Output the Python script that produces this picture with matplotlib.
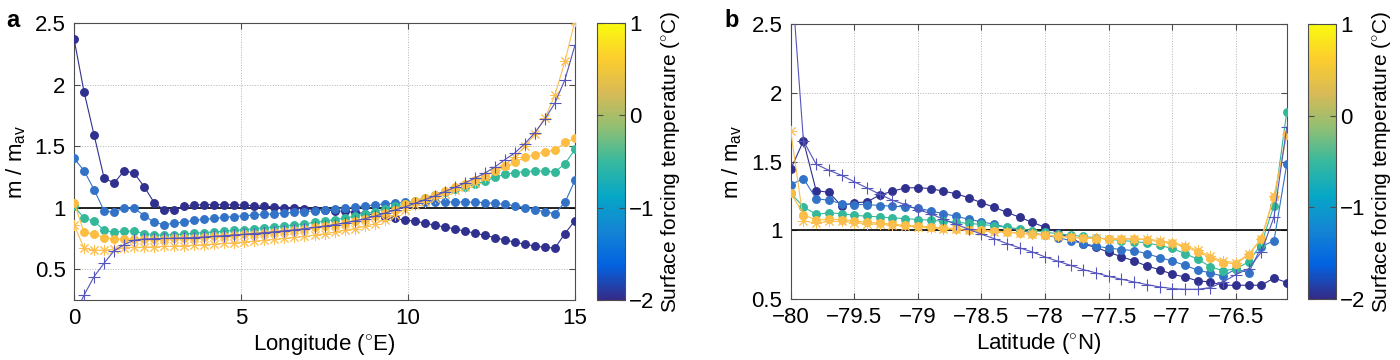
import numpy as np
import matplotlib
matplotlib.use('Agg')
import matplotlib.pyplot as plt
from matplotlib.colors import LinearSegmentedColormap, Normalize
from matplotlib.cm import ScalarMappable

plt.rcParams['font.family'] = ['Liberation Sans', 'DejaVu Sans']
plt.rcParams['mathtext.fontset'] = 'custom'
plt.rcParams['mathtext.rm'] = 'Liberation Sans'
plt.rcParams['mathtext.it'] = 'Liberation Sans:italic'
plt.rcParams['font.size'] = 16

# ---------------- data ----------------
# panel a : along longitude, 0 .. 15 E every 0.3 deg
lon = np.linspace(0, 15, 51)

a_m2 = [2.37, 1.94, 1.59, 1.24, 1.20, 1.30, 1.28, 1.17, 1.04, 0.98,
        0.98, 1.01, 1.02, 1.024, 1.024, 1.024, 1.022, 1.02, 1.016, 1.012,
        1.006, 1.0, 0.995, 0.99, 0.985, 0.98, 0.975, 0.97, 0.962, 0.952,
        0.94, 0.925, 0.912, 0.90, 0.89, 0.875, 0.858, 0.843, 0.827, 0.81,
        0.794, 0.775, 0.757, 0.737, 0.72, 0.703, 0.688, 0.677, 0.672, 0.79,
        0.895]
a_m15 = [1.40, 1.30, 1.146, 0.973, 0.962, 1.0, 0.995, 0.935, 0.881, 0.862,
         0.873, 0.884, 0.897, 0.905, 0.913, 0.921, 0.928, 0.934, 0.94, 0.946,
         0.951, 0.957, 0.962, 0.968, 0.974, 0.98, 0.986, 0.995, 1.005, 1.014,
         1.022, 1.03, 1.037, 1.042, 1.045, 1.046, 1.046, 1.046, 1.046, 1.045,
         1.044, 1.041, 1.035, 1.027, 1.016, 1.0, 0.985, 0.966, 0.952, 1.043,
         1.222]
a_m05 = [1.01, 0.915, 0.89, 0.815, 0.80, 0.81, 0.81, 0.79, 0.78, 0.778,
         0.78, 0.786, 0.792, 0.798, 0.803, 0.809, 0.815, 0.822, 0.829, 0.836,
         0.844, 0.852, 0.861, 0.87, 0.88, 0.89, 0.902, 0.915, 0.93, 0.948,
         0.968, 0.99, 1.012, 1.03, 1.055, 1.08, 1.10, 1.125, 1.148, 1.17,
         1.19, 1.215, 1.245, 1.271, 1.284, 1.293, 1.297, 1.297, 1.29, 1.357,
         1.474]
a_p05 = [1.04, 0.80, 0.785, 0.755, 0.745, 0.745, 0.745, 0.745, 0.746, 0.748,
         0.75, 0.753, 0.757, 0.762, 0.767, 0.772, 0.778, 0.784, 0.79, 0.797,
         0.804, 0.812, 0.82, 0.829, 0.839, 0.85, 0.862, 0.876, 0.892, 0.91,
         0.93, 0.955, 0.982, 1.03, 1.055, 1.08, 1.105, 1.135, 1.165, 1.195,
         1.225, 1.26, 1.30, 1.335, 1.368, 1.41, 1.43, 1.455, 1.465, 1.53,
         1.563]
a_star = [0.86, 0.67, 0.655, 0.653, 0.664, 0.675, 0.678, 0.68, 0.682, 0.685,
          0.688, 0.691, 0.695, 0.70, 0.705, 0.71, 0.716, 0.722, 0.728, 0.735,
          0.742, 0.75, 0.758, 0.767, 0.777, 0.788, 0.80, 0.815, 0.83, 0.848,
          0.87, 0.90, 0.94, 0.985, 1.02, 1.05, 1.08, 1.11, 1.14, 1.168,
          1.198, 1.25, 1.306, 1.35, 1.414, 1.50, 1.60, 1.73, 1.915, 2.19,
          2.52]
a_plus = [0.12, 0.29, 0.44, 0.55, 0.65, 0.70, 0.735, 0.745, 0.748, 0.75,
          0.752, 0.754, 0.757, 0.762, 0.767, 0.772, 0.778, 0.784, 0.79, 0.797,
          0.804, 0.812, 0.82, 0.829, 0.839, 0.85, 0.862, 0.876, 0.892, 0.91,
          0.93, 0.955, 0.98, 1.005, 1.035, 1.065, 1.095, 1.13, 1.165, 1.20,
          1.24, 1.28, 1.33, 1.39, 1.445, 1.52, 1.61, 1.72, 1.85, 2.04,
          2.32]

# panel b : along latitude, -80 .. -76.1 N every 0.1 deg
lat = np.linspace(-80, -76.1, 40)

b_m2 = [1.444, 1.65, 1.288, 1.276, 1.177, 1.20, 1.206, 1.257, 1.284, 1.308,
        1.31, 1.303, 1.284, 1.266, 1.236, 1.20, 1.168, 1.13, 1.095, 1.057,
        1.022, 0.983, 0.943, 0.90, 0.875, 0.84, 0.808, 0.777, 0.74, 0.714,
        0.68, 0.66, 0.632, 0.624, 0.60, 0.60, 0.60, 0.60, 0.653, 0.62]
b_m15 = [1.332, 1.376, 1.23, 1.218, 1.194, 1.187, 1.187, 1.18, 1.175, 1.17,
         1.162, 1.14, 1.121, 1.102, 1.08, 1.061, 1.044, 1.02, 1.0, 0.98,
         0.964, 0.947, 0.925, 0.903, 0.885, 0.87, 0.86, 0.852, 0.83, 0.801,
         0.777, 0.745, 0.71, 0.69, 0.665, 0.72, 0.69, 0.88, 0.925, 1.48]
b_m05 = [1.27, 1.17, 1.116, 1.126, 1.121, 1.109, 1.102, 1.097, 1.09, 1.085,
         1.078, 1.073, 1.065, 1.058, 1.05, 1.042, 1.033, 1.022, 1.01, 0.998,
         0.986, 0.975, 0.965, 0.955, 0.945, 0.935, 0.925, 0.918, 0.908, 0.89,
         0.868, 0.83, 0.79, 0.735, 0.705, 0.72, 0.77, 0.90, 1.18, 1.86]
b_p05 = [1.274, 1.114, 1.073, 1.08, 1.078, 1.068, 1.058, 1.053, 1.044, 1.036,
         1.032, 1.024, 1.017, 1.012, 1.005, 1.0, 0.995, 0.988, 0.98, 0.976,
         0.966, 0.957, 0.95, 0.943, 0.94, 0.938, 0.937, 0.937, 0.93, 0.918,
         0.905, 0.88, 0.845, 0.80, 0.765, 0.755, 0.82, 0.935, 1.24, 1.69]
b_star = [1.72, 1.07, 1.05, 1.065, 1.065, 1.055, 1.048, 1.043, 1.036, 1.03,
          1.025, 1.018, 1.012, 1.006, 1.0, 0.995, 0.99, 0.984, 0.978, 0.972,
          0.963, 0.956, 0.95, 0.945, 0.942, 0.94, 0.94, 0.94, 0.935, 0.925,
          0.91, 0.888, 0.855, 0.81, 0.775, 0.765, 0.825, 0.94, 1.25, 1.70]
b_plus = [2.92, 1.65, 1.48, 1.436, 1.40, 1.352, 1.308, 1.262, 1.218, 1.187,
          1.15, 1.121, 1.08, 1.044, 1.007, 0.971, 0.939, 0.903, 0.872, 0.842,
          0.806, 0.775, 0.745, 0.714, 0.69, 0.665, 0.644, 0.624, 0.605, 0.588,
          0.576, 0.571, 0.571, 0.583, 0.624, 0.678, 0.72, 0.842, 1.097, 1.75]

# parula-like colormap (sampled)
parula = LinearSegmentedColormap.from_list('parula', [
    (0.2081, 0.1663, 0.5292), (0.0117, 0.3875, 0.8820), (0.0793, 0.5200, 0.8312),
    (0.0228, 0.6535, 0.7768), (0.2178, 0.7250, 0.6193), (0.5709, 0.7485, 0.4494),
    (0.8507, 0.7299, 0.3360), (0.9880, 0.8066, 0.1794), (0.9763, 0.9831, 0.0538)])

c_m2 = (0.19, 0.19, 0.56)
c_m15 = (0.2, 0.45, 0.78)
c_m05 = (0.2, 0.72, 0.6)
c_p05 = (0.99, 0.74, 0.25)
c_star = (0.99, 0.75, 0.32)
c_plus = (0.33, 0.33, 0.74)

spine_c = '0.3'


def draw(ax, x, series):
    m2, m15, m05, p05, star, plus = series
    for y, c in [(m2, c_m2), (m15, c_m15), (m05, c_m05), (p05, c_p05)]:
        ax.plot(x, y, '-', color=c, lw=0.8, marker='o', ms=5.4,
                mfc=c, mec=c, zorder=3)
    ax.plot(x, star, '-', color=c_star, lw=0.8, marker=(8, 2, 0), ms=8,
            mew=0.7, zorder=4)
    ax.plot(x, plus, '-', color=c_plus, lw=0.8, marker='+', ms=9,
            mew=0.8, zorder=5)
    ax.axhline(1, color='k', lw=1.2, zorder=2)
    ax.grid(True, linestyle=':', color='0.7', lw=0.7)
    ax.set_axisbelow(True)
    ax.tick_params(direction='in', length=4, top=True, right=True,
                   color=spine_c, labelsize=16)
    ax.tick_params(axis='x', pad=6)
    ax.tick_params(axis='y', pad=6)
    for s in ax.spines.values():
        s.set_color(spine_c)
        s.set_linewidth(0.8)
    ax.set_ylabel(r'm / m$_{\mathrm{av}}$', fontsize=16, labelpad=5)


def cbar(fig, rect):
    cax = fig.add_axes(rect)
    sm = ScalarMappable(norm=Normalize(-2, 1), cmap=parula)
    cb = fig.colorbar(sm, cax=cax, ticks=[-2, -1, 0, 1])
    cb.outline.set_edgecolor(spine_c)
    cb.outline.set_linewidth(0.8)
    cax.tick_params(direction='in', length=4, left=True, right=True,
                    color=spine_c, labelsize=16, pad=3)
    cb.set_label(r'Surface forcing temperature ($^{\circ}$C)', fontsize=15,
                 labelpad=3)
    return cb


fig = plt.figure(figsize=(14, 3.6), dpi=100)

ax1 = fig.add_axes([0.0529, 0.1667, 0.3578, 0.7694])
draw(ax1, lon, [a_m2, a_m15, a_m05, a_p05, a_star, a_plus])
ax1.set_xlim(0, 15)
ax1.set_ylim(0.25, 2.5)
ax1.set_xticks([0, 5, 10, 15])
ax1.set_yticks([0.5, 1, 1.5, 2, 2.5])
ax1.set_yticklabels(['0.5', '1', '1.5', '2', '2.5'])
ax1.set_xlabel(r'Longitude ($^{\circ}$E)', fontsize=16, labelpad=2)
cbar(fig, [0.4264, 0.1667, 0.02, 0.7694])

ax2 = fig.add_axes([0.5648, 0.1694, 0.3543, 0.7639])
draw(ax2, lat, [b_m2, b_m15, b_m05, b_p05, b_star, b_plus])
ax2.set_xlim(-80, -76.1)
ax2.set_ylim(0.5, 2.5)
ax2.set_xticks([-80, -79.5, -79, -78.5, -78, -77.5, -77, -76.5])
ax2.set_xticklabels(['\u221280', '\u221279.5', '\u221279', '\u221278.5',
                     '\u221278', '\u221277.5', '\u221277', '\u221276.5'])
ax2.set_yticks([0.5, 1, 1.5, 2, 2.5])
ax2.set_yticklabels(['0.5', '1', '1.5', '2', '2.5'])
ax2.set_xlabel(r'Latitude ($^{\circ}$N)', fontsize=16, labelpad=2)
cbar(fig, [0.9343, 0.1694, 0.02, 0.7639])

fig.text(0.0093, 0.942, 'a', fontsize=17, fontweight='bold', ha='center', va='center')
fig.text(0.5229, 0.944, 'b', fontsize=17, fontweight='bold', ha='center', va='center')

fig.savefig('out.png', dpi=100)
